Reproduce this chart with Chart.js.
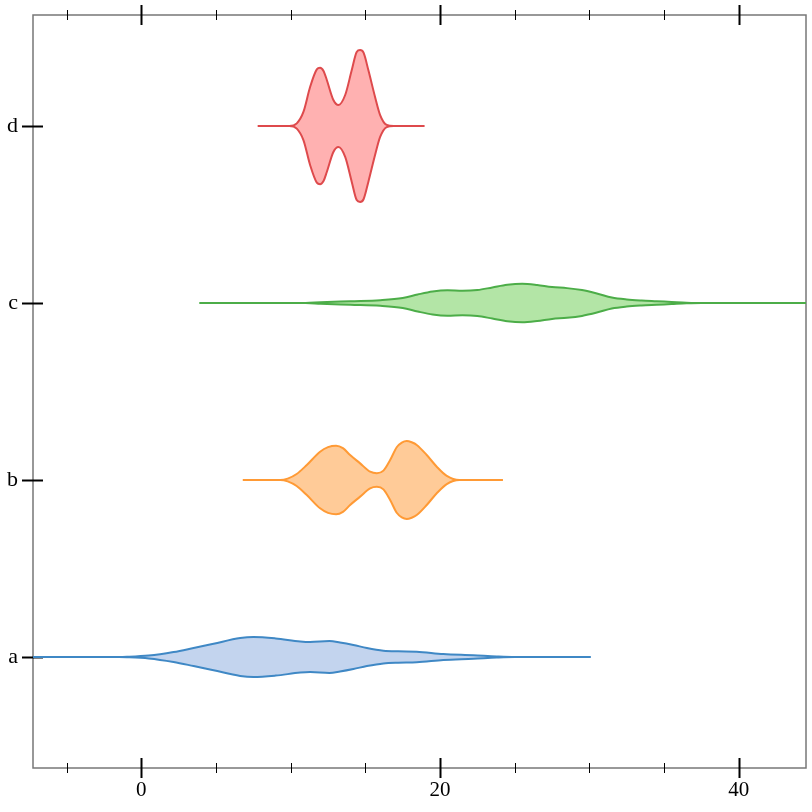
<!DOCTYPE html>
<html>
<head>
<meta charset="utf-8">
<script src="https://cdn.jsdelivr.net/npm/chart.js@4"></script>
<style>
    html, body { margin: 0; padding: 0; background: #fff; }
    #wrap { width: 812px; height: 812px; }
</style>
</head>
<body>
<div id="wrap"><canvas id="grafica" width="812" height="812"></canvas></div>
<script>
// categorias (de abajo hacia arriba)
const categorias = ['a', 'b', 'c', 'd'];

// violin a: posiciones x y media anchura de la densidad
const xA = [-10, -1.5, -0.96, 0.5, 2.16, 3.5, 4.84, 6.62, 7.51, 9.0, 10.64, 11.3, 12.6, 13.3, 14.2, 15.1, 16.21, 17.2, 18.44, 20.22, 22.23, 23.79, 25.0, 30.08];
const wA = [0, 0, 0.001, 0.008, 0.028, 0.051, 0.075, 0.107, 0.113, 0.105, 0.088, 0.085, 0.090, 0.082, 0.068, 0.051, 0.036, 0.032, 0.030, 0.017, 0.010, 0.003, 0, 0];

// violin b
const xB = [6.8, 9.3, 9.8, 10.4, 11.08, 11.97, 12.5, 13.04, 13.5, 13.98, 14.65, 15.32, 15.77, 16.21, 16.66, 17.1, 17.44, 17.77, 18.1, 18.44, 19.11, 19.78, 20.45, 21.3, 24.2];
const wB = [0, 0, 0.008, 0.034, 0.085, 0.160, 0.186, 0.194, 0.180, 0.141, 0.094, 0.047, 0.038, 0.053, 0.113, 0.185, 0.211, 0.220, 0.213, 0.198, 0.141, 0.075, 0.023, 0, 0];

// violin c
const xC = [3.9, 11.0, 12.0, 14.0, 16.0, 17.5, 18.5, 19.5, 20.5, 21.5, 22.5, 23.5, 24.5, 25.5, 26.5, 27.5, 28.5, 29.5, 30.5, 31.5, 32.5, 33.5, 34.5, 35.5, 36.5, 37.5, 46];
const wC = [0, 0, 0.004, 0.010, 0.016, 0.028, 0.048, 0.065, 0.072, 0.069, 0.073, 0.088, 0.103, 0.109, 0.102, 0.090, 0.084, 0.073, 0.054, 0.031, 0.020, 0.014, 0.010, 0.006, 0.002, 0, 0];

// violin d
const xD = [7.8, 9.9, 10.41, 10.86, 11.3, 11.75, 11.97, 12.2, 12.42, 12.86, 13.2, 13.65, 14.09, 14.42, 14.65, 14.88, 15.2, 15.65, 15.99, 16.43, 16.9, 18.95];
const wD = [0, 0, 0.015, 0.081, 0.220, 0.320, 0.329, 0.311, 0.260, 0.147, 0.119, 0.175, 0.316, 0.418, 0.429, 0.414, 0.316, 0.164, 0.062, 0.006, 0, 0];

// etiquetas del eje x (solo las mayores llevan texto)
const xTickLabels = [0, 20, 40];

const violines = [
    { x: xA, w: wA, line: '#3f88c5', fill: '#c3d4ee' },
    { x: xB, w: wB, line: '#ff9a35', fill: '#ffcb98' },
    { x: xC, w: wC, line: '#4cad48', fill: '#b3e5a6' },
    { x: xD, w: wD, line: '#de4a4c', fill: '#ffb1b1' }
];

const datasets = [];
violines.forEach((v, i) => {
    const arriba = v.x.map((x, k) => ({ x: x, y: i + v.w[k] }));
    const abajo = v.x.map((x, k) => ({ x: x, y: i - v.w[k] }));
    datasets.push({
        label: categorias[i],
        data: arriba,
        borderColor: v.line,
        borderWidth: 2,
        pointRadius: 0,
        fill: false,
        cubicInterpolationMode: 'monotone'
    });
    datasets.push({
        label: categorias[i] + '_low',
        data: abajo,
        borderColor: v.line,
        backgroundColor: v.fill,
        borderWidth: 2,
        pointRadius: 0,
        fill: '-1',
        cubicInterpolationMode: 'monotone'
    });
});

// marco y marcas de los ejes
const ejesPlugin = {
    id: 'ejes',
    beforeDatasetsDraw(chart) {
        const ctx = chart.ctx;
        const a = chart.chartArea;
        const xs = chart.scales.x;
        const ys = chart.scales.y;
        ctx.save();
        ctx.strokeStyle = '#777';
        ctx.lineWidth = 1.5;
        ctx.strokeRect(a.left, a.top, a.right - a.left, a.bottom - a.top);

        ctx.strokeStyle = '#000';
        xs.ticks.forEach(t => {
            const px = Math.round(xs.getPixelForValue(t.value)) + 0.5;
            const mayor = xTickLabels.includes(t.value);
            const len = mayor ? 10 : 5;
            ctx.lineWidth = mayor ? 2 : 1;
            [a.top, a.bottom].forEach(yy => {
                ctx.beginPath();
                ctx.moveTo(px, yy - len);
                ctx.lineTo(px, yy + len);
                ctx.stroke();
            });
        });
        ys.ticks.forEach(t => {
            const py = Math.round(ys.getPixelForValue(t.value)) + 0.5;
            ctx.lineWidth = 2;
            ctx.beginPath();
            ctx.moveTo(a.left - 11, py);
            ctx.lineTo(a.left + 10, py);
            ctx.stroke();
        });
        ctx.restore();
    }
};

function sinRelleno(s) {
    s.paddingTop = 0;
    s.paddingBottom = 0;
    s.paddingLeft = 0;
    s.paddingRight = 0;
}

const ctx = document.getElementById('grafica').getContext('2d');
new Chart(ctx, {
    type: 'line',
    data: { datasets: datasets },
    options: {
        responsive: false,
        animation: false,
        layout: { padding: { left: 0, right: 6, top: 15, bottom: 0 } },
        plugins: { legend: { display: false }, tooltip: { enabled: false } },
        scales: {
            x: {
                type: 'linear',
                min: -7.25,
                max: 44.5,
                afterFit: s => { s.height = 44; sinRelleno(s); },
                border: { display: false },
                grid: { display: false, drawTicks: false },
                ticks: {
                    stepSize: 5,
                    includeBounds: false,
                    autoSkip: false,
                    maxRotation: 0,
                    padding: 10,
                    color: '#000',
                    font: { family: 'Liberation Serif', size: 21 },
                    callback: v => xTickLabels.includes(v) ? String(v) : ''
                }
            },
            y: {
                type: 'linear',
                min: -0.627,
                max: 3.627,
                afterFit: s => { s.width = 33; sinRelleno(s); },
                border: { display: false },
                grid: { display: false, drawTicks: false },
                ticks: {
                    stepSize: 1,
                    includeBounds: false,
                    padding: 15,
                    color: '#000',
                    font: { family: 'Liberation Serif', size: 22 },
                    callback: v => categorias[v] !== undefined ? categorias[v] : ''
                }
            }
        }
    },
    plugins: [ejesPlugin]
});
</script>
</body>
</html>
